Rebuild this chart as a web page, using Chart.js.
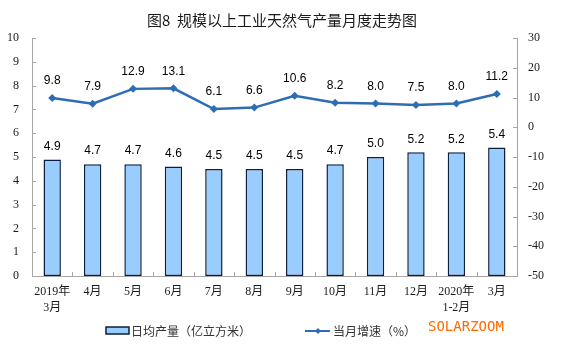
<html>
<head>
<meta charset="UTF-8">
<title>规模以上工业天然气产量月度走势图</title>
<script src="https://cdn.jsdelivr.net/npm/chart.js@4.4.1/dist/chart.umd.min.js"></script>
<style>
  body { margin: 0; background: #fff; }
  #wrap { width: 563px; height: 362px; }
</style>
</head>
<body>
<div id="wrap"><canvas id="myChart" width="563" height="362"></canvas></div>
<script>
// categories and values
var months = [['2019年', '3月'], '4月', '5月', '6月', '7月', '8月', '9月', '10月', '11月', '12月', ['2020年', '1-2月'], '3月'];
var dailyOutput = [4.9, 4.7, 4.7, 4.6, 4.5, 4.5, 4.5, 4.7, 5.0, 5.2, 5.2, 5.4];
var growthRate = [9.8, 7.9, 12.9, 13.1, 6.1, 6.6, 10.6, 8.2, 8.0, 7.5, 8.0, 11.2];
var leftTicks = [0, 1, 2, 3, 4, 5, 6, 7, 8, 9, 10];
var rightTicks = [-50, -40, -30, -20, -10, 0, 10, 20, 30];

var axisColor = '#a6a6a6';
var barFill = '#99ccff';
var barBorder = '#0d1f3c';
var lineColor = '#2e6db4';
var serif = '"Liberation Serif", "Noto Sans CJK SC", serif';
var sans = '"Noto Sans CJK SC", "Liberation Sans", sans-serif';

var extras = {
  id: 'extras',
  afterDraw: function(chart) {
    var ctx = chart.ctx;
    var area = chart.chartArea;
    var x = chart.scales.x, yl = chart.scales.y, yr = chart.scales.y1;
    ctx.save();

    // title
    ctx.fillStyle = '#1a1a1a';
    ctx.font = '15px ' + sans;
    ctx.textAlign = 'center';
    ctx.textBaseline = 'middle';
    ctx.fillText('图8  规模以上工业天然气产量月度走势图', 282, 20);

    // inward tick marks
    ctx.strokeStyle = axisColor;
    ctx.lineWidth = 1;
    ctx.beginPath();
    leftTicks.forEach(function(v) {
      var py = Math.round(yl.getPixelForValue(v)) + 0.5;
      ctx.moveTo(area.left, py); ctx.lineTo(area.left + 4, py);
    });
    rightTicks.forEach(function(v) {
      var py = Math.round(yr.getPixelForValue(v)) + 0.5;
      ctx.moveTo(area.right - 4, py); ctx.lineTo(area.right, py);
    });
    var step = (area.right - area.left) / months.length;
    for (var i = 1; i < months.length; i++) {
      var px = Math.round(area.left + step * i) + 0.5;
      ctx.moveTo(px, area.bottom); ctx.lineTo(px, area.bottom - 4);
    }
    ctx.stroke();

    // value labels
    ctx.fillStyle = '#000';
    ctx.font = '12px "Liberation Sans", Arial, sans-serif';
    ctx.textAlign = 'center';
    ctx.textBaseline = 'middle';
    chart.getDatasetMeta(0).data.forEach(function(bar, i) {
      ctx.fillText(dailyOutput[i].toFixed(1), bar.x, bar.y - 13);
    });
    chart.getDatasetMeta(1).data.forEach(function(pt, i) {
      ctx.fillText(growthRate[i].toFixed(1), pt.x, pt.y - 17);
    });

    // legend
    ctx.fillStyle = barFill;
    ctx.strokeStyle = barBorder;
    ctx.lineWidth = 1.5;
    ctx.fillRect(106, 327, 23, 7);
    ctx.strokeRect(106, 327, 23, 7);
    ctx.fillStyle = '#333';
    ctx.font = '12px ' + sans;
    ctx.textAlign = 'left';
    ctx.fillText('日均产量（亿立方米）', 131, 331);

    ctx.strokeStyle = lineColor;
    ctx.lineWidth = 2;
    ctx.beginPath();
    ctx.moveTo(305, 331); ctx.lineTo(330, 331);
    ctx.stroke();
    ctx.fillStyle = lineColor;
    ctx.beginPath();
    ctx.moveTo(318, 328); ctx.lineTo(321, 331); ctx.lineTo(318, 334); ctx.lineTo(315, 331);
    ctx.closePath();
    ctx.fill();
    ctx.fillStyle = '#333';
    ctx.fillText('当月增速（%）', 333, 331);

    // watermark
    ctx.fillStyle = '#ff6a00';
    ctx.font = '14px "DejaVu Sans Mono", monospace';
    ctx.fillText('SOLARZOOM', 428, 327);

    ctx.restore();
  }
};

var ctx = document.getElementById('myChart').getContext('2d');
var myChart = new Chart(ctx, {
  type: 'bar',
  data: {
    labels: months,
    datasets: [{
      type: 'bar',
      label: '日均产量（亿立方米）',
      data: dailyOutput,
      backgroundColor: barFill,
      borderColor: barBorder,
      borderWidth: 1.5,
      borderSkipped: false,
      categoryPercentage: 1,
      barPercentage: 0.43,
      yAxisID: 'y',
      order: 2
    }, {
      type: 'line',
      label: '当月增速（%）',
      data: growthRate,
      borderColor: lineColor,
      backgroundColor: lineColor,
      borderWidth: 2.5,
      pointStyle: 'rectRot',
      pointRadius: 4,
      pointBackgroundColor: lineColor,
      pointBorderWidth: 0,
      tension: 0,
      yAxisID: 'y1',
      order: 1
    }]
  },
  options: {
    responsive: false,
    animation: false,
    layout: { padding: { top: 38, bottom: 41, left: 0, right: 0 } },
    plugins: {
      legend: { display: false },
      tooltip: { enabled: false },
      title: { display: false }
    },
    scales: {
      x: {
        grid: { display: false, drawTicks: false },
        border: { color: axisColor },
        ticks: { color: '#1a1a1a', font: { family: serif, size: 12, lineHeight: 1.35 }, padding: 8, maxRotation: 0, autoSkip: false },
        afterFit: function(s) { s.height = 45; }
      },
      y: {
        position: 'left',
        min: 0, max: 10,
        afterBuildTicks: function(s) { s.ticks = leftTicks.map(function(v) { return { value: v }; }); },
        grid: { display: false, drawTicks: false },
        border: { color: axisColor },
        ticks: { color: '#1a1a1a', font: { family: serif, size: 12 }, padding: 13 },
        afterFit: function(s) { s.width = 32; }
      },
      y1: {
        position: 'right',
        min: -50, max: 30,
        afterBuildTicks: function(s) { s.ticks = rightTicks.map(function(v) { return { value: v }; }); },
        grid: { display: false, drawTicks: false },
        border: { color: axisColor },
        ticks: { color: '#1a1a1a', font: { family: serif, size: 12 }, padding: 11 },
        afterFit: function(s) { s.width = 46; }
      }
    }
  },
  plugins: [extras]
});
</script>
</body>
</html>
